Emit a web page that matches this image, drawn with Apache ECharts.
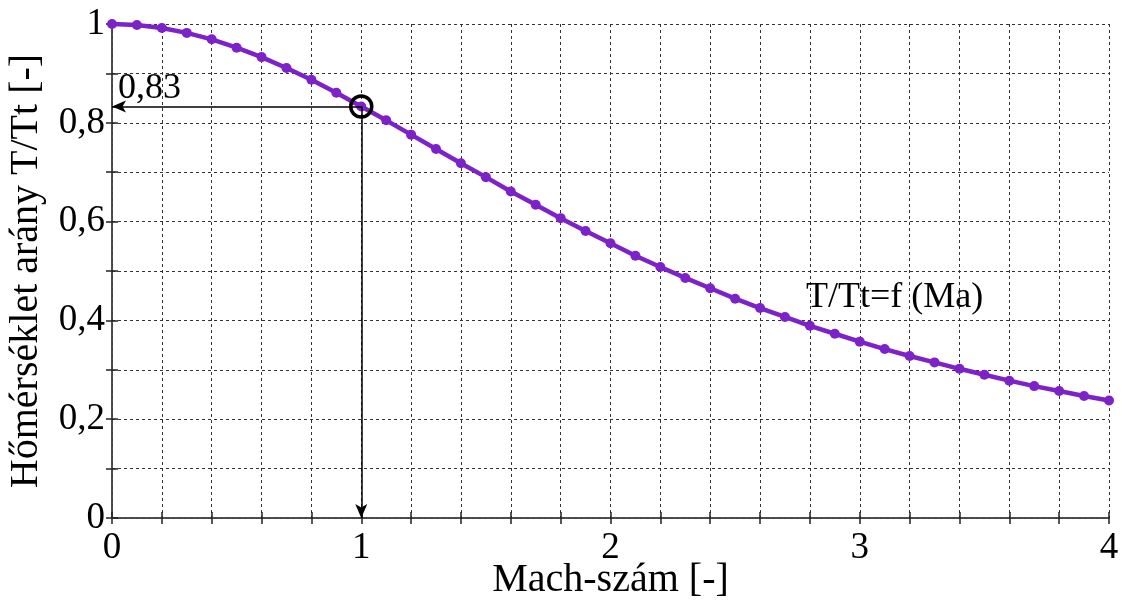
<!DOCTYPE html>
<html>
<head>
<meta charset="utf-8">
<script src="https://cdn.jsdelivr.net/npm/echarts@6/dist/echarts.min.js"></script>
<style>
  html, body { margin: 0; padding: 0; background: #fff; }
  #chart { width: 1122px; height: 605px; }
</style>
</head>
<body>
<div id="chart"></div>
<script>
// Mach number (x) and temperature ratio T/Tt (y)
const mach = [0, 0.1, 0.2, 0.3, 0.4, 0.5, 0.6, 0.7, 0.8, 0.9,
  1.0, 1.1, 1.2, 1.3, 1.4, 1.5, 1.6, 1.7, 1.8, 1.9,
  2.0, 2.1, 2.2, 2.3, 2.4, 2.5, 2.6, 2.7, 2.8, 2.9,
  3.0, 3.1, 3.2, 3.3, 3.4, 3.5, 3.6, 3.7, 3.8, 3.9, 4.0];
const ratio = [1.0, 0.998, 0.992, 0.982, 0.969, 0.952, 0.933, 0.911, 0.887, 0.861,
  0.833, 0.805, 0.776, 0.747, 0.718, 0.690, 0.661, 0.634, 0.607, 0.581,
  0.556, 0.531, 0.508, 0.486, 0.465, 0.444, 0.425, 0.407, 0.389, 0.373,
  0.357, 0.342, 0.328, 0.315, 0.302, 0.290, 0.278, 0.267, 0.257, 0.247, 0.238];
// marked point and annotation
const markX = 1;
const markY = 0.833;
const markText = "0,83";
const curveText = "T/Tt=f (Ma)";
const curveTextAt = [3.14, 0.447];

const serif = "Liberation Serif";
const chart = echarts.init(document.getElementById("chart"));

const xLabel = (v) => Math.abs(v - Math.round(v)) < 1e-6 ? String(Math.round(v)) : "";
const yLabel = (v) => {
  const t = Math.round(v * 10);
  if (t % 2 !== 0) return "";
  if (t === 0) return "0";
  if (t === 10) return "1";
  return (t / 10).toFixed(1).replace(".", ",");
};

const frameLine = { show: true, lineStyle: { color: "#444", width: 1.5 } };
const innerTick = { show: true, inside: true, length: 6, lineStyle: { color: "#222", width: 1.5 } };
const gridLine = { show: true, lineStyle: { color: "#333", type: [3, 3], width: 1 } };

chart.setOption({
  animation: false,
  grid: { left: 112, right: 13, top: 24, bottom: 87, outerBoundsMode: "none", containLabel: false },
  xAxis: [
    {
      type: "value", min: 0, max: 4, interval: 0.2,
      name: "Mach-szám [-]", nameLocation: "middle", nameGap: 42, nameMoveOverlap: false,
      nameTextStyle: { fontFamily: serif, fontSize: 40, color: "#000" },
      axisLine: frameLine, axisTick: innerTick, splitLine: gridLine,
      axisLabel: { formatter: xLabel, fontFamily: serif, fontSize: 37, color: "#000", margin: 12 }
    },
    {
      type: "value", min: 0, max: 4, interval: 0.2, position: "top",
      axisLine: frameLine, axisTick: innerTick, splitLine: { show: false },
      axisLabel: { show: false }
    }
  ],
  yAxis: [
    {
      type: "value", min: 0, max: 1, interval: 0.1,
      name: "Hőmérséklet arány T/Tt [-]", nameLocation: "middle", nameGap: 66, nameMoveOverlap: false,
      nameTextStyle: { fontFamily: serif, fontSize: 40, color: "#000" },
      axisLine: frameLine, axisTick: innerTick, splitLine: gridLine,
      axisLabel: { formatter: yLabel, fontFamily: serif, fontSize: 37, color: "#000", margin: 7 }
    },
    {
      type: "value", min: 0, max: 1, interval: 0.1, position: "right",
      axisLine: frameLine, axisTick: innerTick, splitLine: { show: false },
      axisLabel: { show: false }
    }
  ],
  series: [
    {
      type: "line",
      data: mach.map((m, i) => [m, ratio[i]]),
      smooth: false,
      lineStyle: { color: "#7d22c8", width: 4.5 },
      itemStyle: { color: "#7d22c8" },
      symbol: "circle",
      symbolSize: 10,
      z: 3,
      markLine: {
        silent: true,
        symbol: ["none", "arrow"],
        symbolSize: [9, 14],
        lineStyle: { color: "#000", width: 1.5, type: "solid" },
        label: { show: false },
        data: [
          [
            { coord: [markX, markY] },
            {
              coord: [0, markY],
              label: {
                show: true, formatter: markText, position: "insideEndTop",
                fontFamily: serif, fontSize: 36, color: "#000", distance: [6, 0]
              }
            }
          ],
          [{ coord: [markX, markY] }, { coord: [markX, 0] }]
        ]
      },
      markPoint: {
        silent: true,
        data: [
          {
            coord: [markX, markY], symbol: "circle", symbolSize: 21,
            itemStyle: { color: "rgba(0,0,0,0)", borderColor: "#000", borderWidth: 3.5 },
            label: { show: false }
          },
          {
            coord: curveTextAt, symbol: "circle", symbolSize: 0,
            label: {
              show: true, formatter: curveText, position: "inside",
              fontFamily: serif, fontSize: 36, color: "#000"
            }
          }
        ]
      }
    }
  ]
});
</script>
</body>
</html>
